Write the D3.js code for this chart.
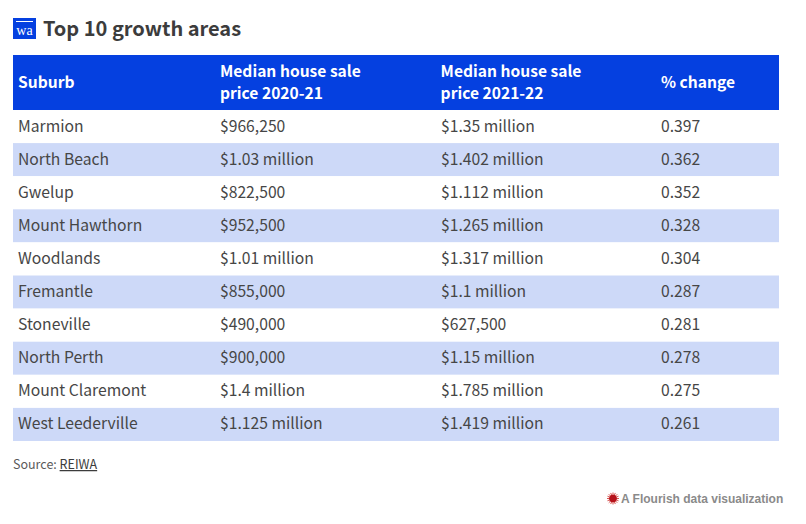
<!DOCTYPE html>
<html><head><meta charset="utf-8">
<script src="https://cdn.jsdelivr.net/npm/d3@7"></script>
<style>
html,body{margin:0;padding:0;background:#fff}
svg{display:block}
text{font-family:"Noto Sans CJK SC","Noto Sans",sans-serif}
</style></head><body>
<div id="chart"></div>
<script>
const title = "Top 10 growth areas";
const logoMark = "wa";
const headers = [["Suburb"],["Median house sale","price 2020-21"],["Median house sale","price 2021-22"],["% change"]];
const suburbs = ["Marmion","North Beach","Gwelup","Mount Hawthorn","Woodlands","Fremantle","Stoneville","North Perth","Mount Claremont","West Leederville"];
const price2021 = ["$966,250","$1.03 million","$822,500","$952,500","$1.01 million","$855,000","$490,000","$900,000","$1.4 million","$1.125 million"];
const price2122 = ["$1.35 million","$1.402 million","$1.112 million","$1.265 million","$1.317 million","$1.1 million","$627,500","$1.15 million","$1.785 million","$1.419 million"];
const change = ["0.397","0.362","0.352","0.328","0.304","0.287","0.281","0.278","0.275","0.261"];
const columns = [suburbs, price2021, price2122, change];

const W = 806, H = 524;
const svg = d3.select("#chart").append("svg").attr("width", W).attr("height", H);
const y = d3.scaleBand().domain(d3.range(suburbs.length)).range([110, 441]);
const x = d3.scaleOrdinal().domain(d3.range(4)).range([18, 220, 440.6, 661]);

// logo
const logo = svg.append("g");
logo.append("rect").attr("x",13).attr("y",18).attr("width",23).attr("height",21).attr("fill","#0540e0");
logo.append("rect").attr("x",16).attr("y",21).attr("width",17).attr("height",1).attr("fill","#fff");
logo.append("text").attr("x",24.5).attr("y",35).attr("text-anchor","middle")
  .attr("font-size",14).attr("font-weight",400).attr("fill","#fff")
  .style("font-family","'Liberation Serif',serif").text(logoMark);

svg.append("text").attr("x",43).attr("y",35.5).attr("font-size",20).attr("font-weight",700).attr("fill","#3c3c3c").text(title);

// header
svg.append("rect").attr("x",13).attr("y",55).attr("width",766).attr("height",55).attr("fill","#0540e0");
const hd = svg.selectAll("text.h").data(headers).join("text").attr("class","h")
  .attr("font-size",15.6).attr("font-weight",700).attr("fill","#fff");
hd.each(function(lines,i){
  const t = d3.select(this);
  const base = lines.length===1 ? 88 : 77;
  lines.forEach((l,j)=>t.append("tspan").attr("x",x(i)).attr("y",base+j*22).text(l));
});

// rows
svg.selectAll("rect.r").data(suburbs).join("rect").attr("class","r")
  .attr("x",13).attr("width",766).attr("y",(d,i)=>y(i)).attr("height",y.bandwidth())
  .attr("fill",(d,i)=>i%2?"#cdd9f8":"#ffffff");
columns.forEach((col,c)=>{
  svg.selectAll("text.c"+c).data(col).join("text").attr("class","c"+c)
    .attr("x",c===2?441:x(c)).attr("y",(d,i)=>Math.floor(y(i)+y.bandwidth()/2+5.5))
    .attr("font-size",15.7).attr("fill","#464646").text(d=>d);
});

// footer
const src = svg.append("text").attr("x",13).attr("y",469).attr("font-size",12.5).attr("fill","#5a5a5a");
src.append("tspan").text("Source: ");
src.append("tspan").attr("text-decoration","underline").attr("fill","#3c3c3c").text("REIWA");

const fl = svg.append("g");
const cx = 613, cy = 498.5;
d3.range(16).forEach(k=>{
  const a = k/16*2*Math.PI;
  fl.append("line").attr("x1",cx).attr("y1",cy).attr("x2",cx+6*Math.cos(a)).attr("y2",cy+6*Math.sin(a))
    .attr("stroke","#d9534f").attr("stroke-width",1);
});
fl.append("circle").attr("cx",cx).attr("cy",cy).attr("r",3.8).attr("fill","#b5121b");
svg.append("text").attr("x",621).attr("y",503).attr("font-size",12).attr("font-weight",700)
  .attr("fill","#8a8a8a").style("font-family","'Liberation Sans',Arial,sans-serif").text("A Flourish data visualization");
</script></body></html>
